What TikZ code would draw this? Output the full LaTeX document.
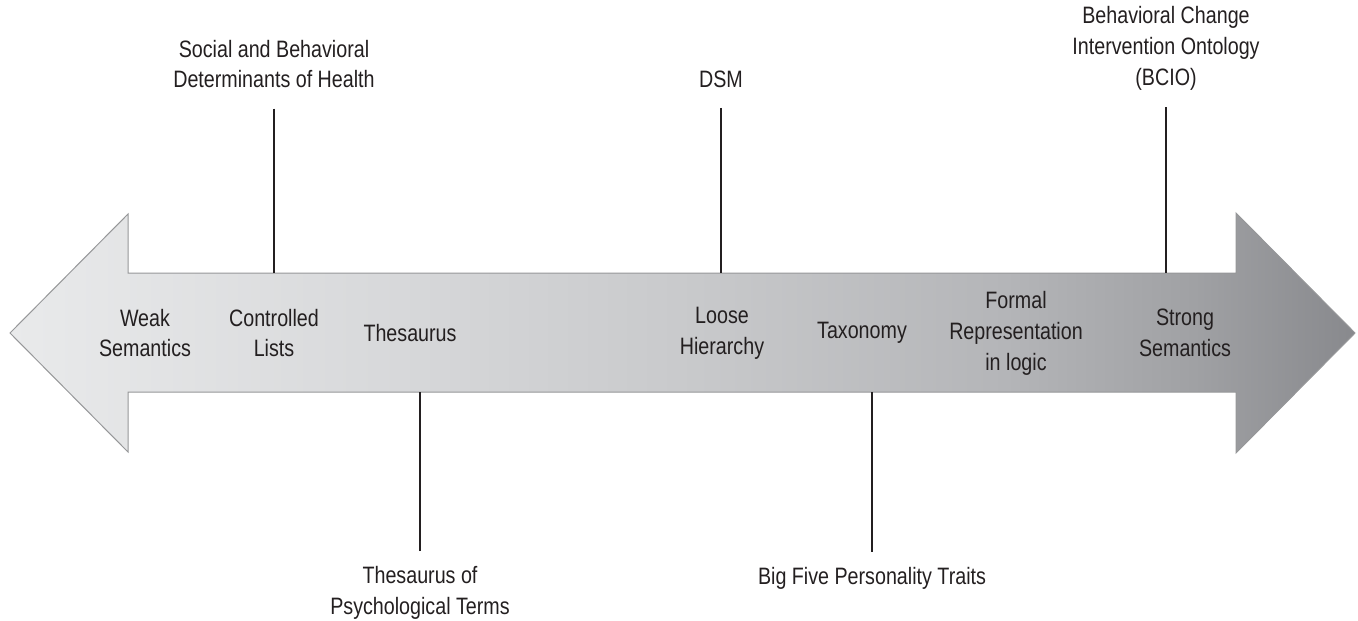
\documentclass[tikz,border=0pt]{standalone}
\usepackage{fontspec}
\setmainfont{Liberation Sans}[FakeStretch=0.83]
\usetikzlibrary{positioning}
\definecolor{ink}{RGB}{35,31,32}
\definecolor{rim}{RGB}{150,151,153}
\definecolor{sem0}{RGB}{233,234,235}
\definecolor{sem1}{RGB}{215,216,218}
\definecolor{sem2}{RGB}{200,201,203}
\definecolor{sem3}{RGB}{180,181,184}
\definecolor{sem4}{RGB}{160,161,164}
\definecolor{sem5}{RGB}{136,137,141}
% the path only sees 25bp..75bp of a shading
\pgfdeclarehorizontalshading{semscale}{100bp}{%
  color(0bp)=(sem0);
  color(25bp)=(sem0);
  color(39.5bp)=(sem1);
  color(50.5bp)=(sem2);
  color(62bp)=(sem3);
  color(69bp)=(sem4);
  color(75bp)=(sem5);
  color(100bp)=(sem5)}
\begin{document}
\begin{tikzpicture}[x=0.02cm,y=-0.02cm,
  lbl/.style={align=center, inner sep=0pt, text=ink,
    font=\fontsize{13.5}{17.6}\selectfont},
  tick/.style={line width=0.04cm, ink}]
\useasboundingbox (0,0) rectangle (1358,620);
% the double arrow, weak to strong
\path[draw=rim, line width=0.02cm, shading=semscale]
  (10,333) -- (128,214) -- (128,273) -- (1236,273) -- (1236,213)
  -- (1355,333) -- (1236,453) -- (1236,392) -- (128,392) -- (128,452) -- cycle;
% points on the shaft
\coordinate (cl) at (274,273);
\coordinate (lh) at (721,273);
\coordinate (ss) at (1166,273);
\coordinate (th) at (420,392);
\coordinate (tx) at (872,392);
% labels inside the arrow
\node[lbl] (weak) at (145,333) {Weak\\Semantics};
\node[lbl] (ctrl) at (274,333) {Controlled\\Lists};
\node[lbl] (thes) at (410,333) {Thesaurus};
\node[lbl] (loose) at (722,333) {Loose\\Hierarchy};
\node[lbl] (tax) at (862,333) {Taxonomy};
\node[lbl] (formal) at (1016,333) {Formal\\Representation\\in logic};
\node[lbl] (strong) at (1185,333) {Strong\\Semantics};
% examples above and below
\node[lbl] (sbdh) at (274,64) {Social and Behavioral\\Determinants of Health};
\node[lbl] (dsm) at (721,79) {DSM};
\node[lbl] (bcio) at (1166,48) {Behavioral Change\\Intervention Ontology\\(BCIO)};
\node[lbl] (apa) at (420,593) {Thesaurus of\\Psychological Terms};
\node[lbl] (big5) at (872,578) {Big Five Personality Traits};
\draw[tick, shorten <=0.4cm] (sbdh) -- (cl);
\draw[tick, shorten <=0.4cm] (dsm) -- (lh);
\draw[tick, shorten <=0.34cm] (bcio) -- (ss);
\draw[tick, shorten <=0.3cm] (apa) -- (th);
\draw[tick, shorten <=0.3cm] (big5) -- (tx);
\end{tikzpicture}
\end{document}
